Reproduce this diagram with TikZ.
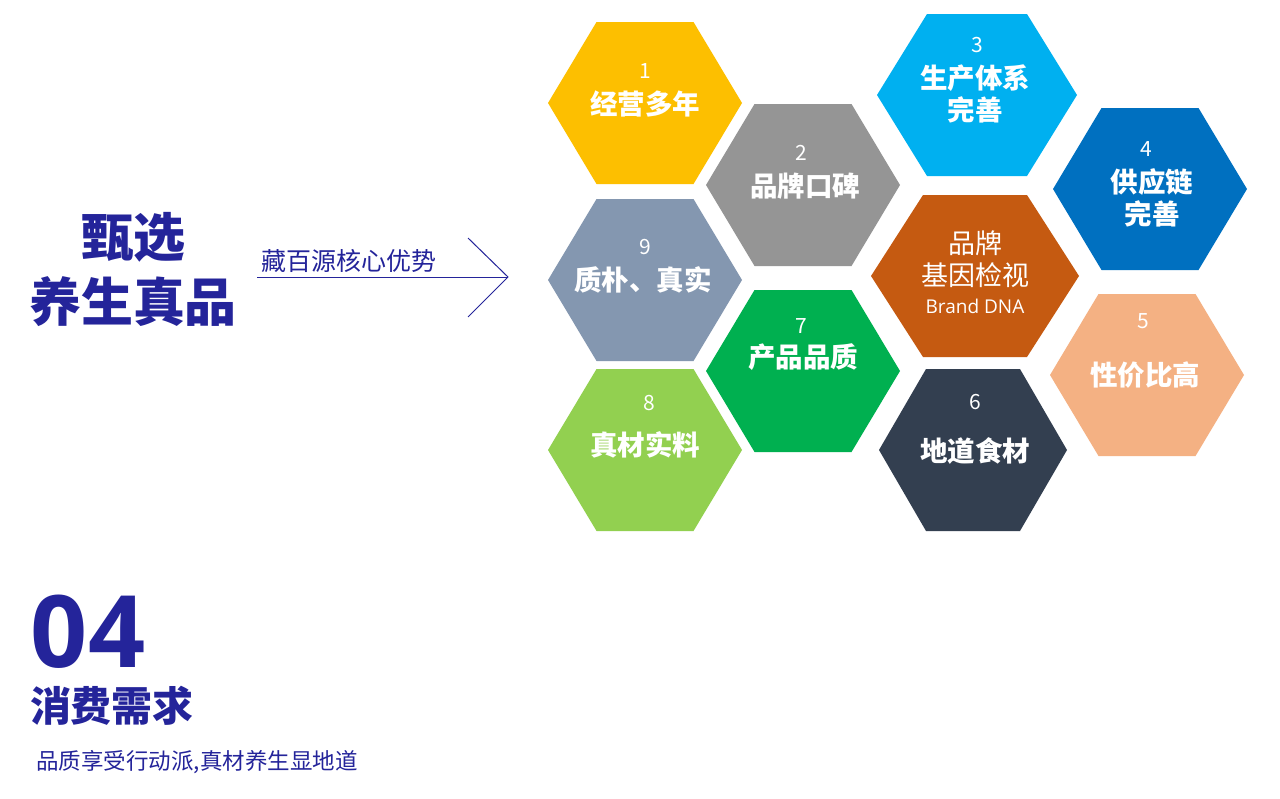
\documentclass[tikz,border=0pt]{standalone}
\usepackage{fontspec}
\setmainfont{Noto Sans CJK SC}
\newfontfamily\latin{Open Sans}
\definecolor{navy}{HTML}{24249A}
\definecolor{cA}{HTML}{FDBF00}
\definecolor{cB}{HTML}{959595}
\definecolor{cC}{HTML}{00B0F0}
\definecolor{cD}{HTML}{0070C0}
\definecolor{cE}{HTML}{8497B0}
\definecolor{cF}{HTML}{C55A11}
\definecolor{cG}{HTML}{00B050}
\definecolor{cH}{HTML}{F4B183}
\definecolor{cI}{HTML}{92D050}
\definecolor{cJ}{HTML}{333F50}
\tikzset{
  num/.style={text=white,font=\fontsize{21}{22}\selectfont,inner sep=0},
  lab/.style={text=white,font=\bfseries\fontsize{27.5}{32}\selectfont,align=center,inner sep=0},
}
\newcommand{\hexa}[5]{% x y color name halfwidth
  \fill[#3] (#1-#5,#2) -- (#1-#5/2,#2-81) -- (#1+#5/2,#2-81) -- (#1+#5,#2) -- (#1+#5/2,#2+81) -- (#1-#5/2,#2+81) -- cycle;
  \coordinate (#4) at (#1,#2);}
\begin{document}
\begin{tikzpicture}[x=1pt,y=-1pt]
\useasboundingbox (0,0) rectangle (1280,798);
\fill[white] (0,0) rectangle (1280,798);
\hexa{645}{103}{cA}{h1}{97}
\hexa{803}{185}{cB}{h2}{97}
\hexa{977}{95}{cC}{h3}{100}
\hexa{1150}{189}{cD}{h4}{97}
\hexa{645}{280}{cE}{h9}{97}
\hexa{975}{276}{cF}{hc}{104}
\hexa{803}{371}{cG}{h7}{97}
\hexa{1147}{375}{cH}{h5}{97}
\hexa{645}{450}{cI}{h8}{97}
\hexa{973}{450}{cJ}{h6}{94}
\node[num] (n1) at (645,71) {1};
\node[lab] (l1) at (645,104) {经营多年};
\node[num] (n2) at (801,153) {2};
\node[lab] (l2) at (805,186) {品牌口碑};
\node[num] (n3) at (977,45) {3};
\node[lab] (l3) at (975,94) {生产体系\\完善};
\node[num] (n4) at (1146,149) {4};
\node[lab] (l4) at (1152,198) {供应链\\完善};
\node[num] (n9) at (645,247) {9};
\node[lab] (l9) at (643,280) {质朴、真实};
\node[text=white,font=\fontsize{27}{32}\selectfont,align=center,inner sep=0] (lc) at (975,259) {品牌\\基因检视};
\node[text=white,font=\latin\fontsize{19}{20}\selectfont,inner sep=0] (ld) at (975,306) {Brand DNA};
\node[num] (n7) at (801,326) {7};
\node[lab] (l7) at (803,357) {产品品质};
\node[num] (n5) at (1143,321) {5};
\node[lab] (l5) at (1145,375) {性价比高};
\node[num] (n8) at (649,403) {8};
\node[lab] (l8) at (645,445) {真材实料};
\node[num] (n6) at (975,402) {6};
\node[lab] (l6) at (975,451) {地道食材};
\node[text=navy,font=\bfseries\fontsize{52}{56}\selectfont] (t1) at (133,237) {甄选};
\node[text=navy,font=\bfseries\fontsize{52}{56}\selectfont] (t2) at (133,302) {养生真品};
\node[text=navy,font=\fontsize{25}{26}\selectfont,inner sep=0] (t3) at (349,261) {藏百源核心优势};
\coordinate (a0) at (257,277);
\coordinate (a1) at (508,277);
\draw[navy,line width=1pt] (a0) -- (a1);
\draw[navy,line width=1pt] (468,238) -- (a1) -- (468,317);
\node[text=navy,font=\latin\bfseries\fontsize{100}{100}\selectfont,inner sep=0] (t4) at (88,632) {04};
\node[text=navy,font=\bfseries\fontsize{41}{42}\selectfont,inner sep=0] (t5) at (112,706) {消费需求};
\node[text=navy,font=\fontsize{22.5}{24}\selectfont,inner sep=0] (t6) at (197,762) {品质享受行动派,真材养生显地道};
\end{tikzpicture}
\end{document}
